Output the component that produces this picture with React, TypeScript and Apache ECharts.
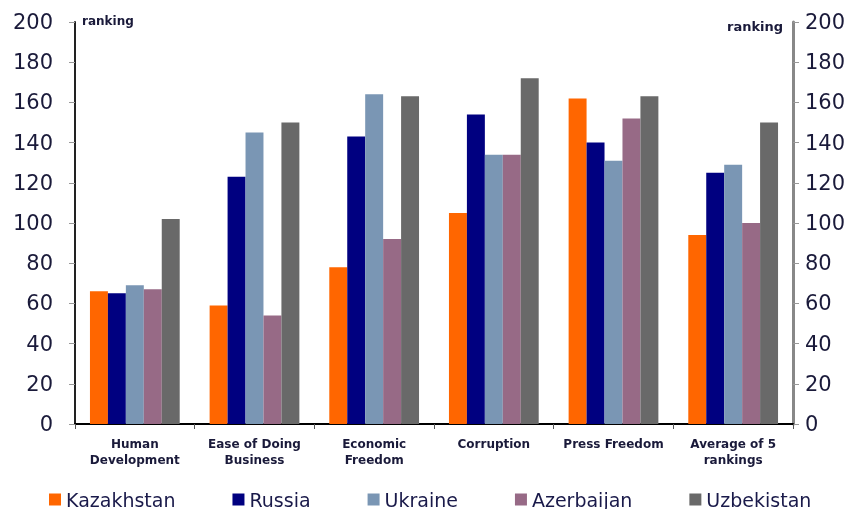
import React, { useEffect, useRef } from "react";
import * as echarts from "echarts";

const categories = [
  "Human\nDevelopment",
  "Ease of Doing\nBusiness",
  "Economic\nFreedom",
  "Corruption",
  "Press Freedom",
  "Average of 5\nrankings",
];
const seriesNames = ["Kazakhstan", "Russia", "Ukraine", "Azerbaijan", "Uzbekistan"];
const kazakhstan = [66, 59, 78, 105, 162, 94];
const russia = [65, 123, 143, 154, 140, 125];
const ukraine = [69, 145, 164, 134, 131, 129];
const azerbaijan = [67, 54, 92, 134, 152, 100];
const uzbekistan = [102, 150, 163, 172, 163, 150];
const colors = ["#FF6600", "#000080", "#7A96B4", "#976A86", "#696969"];

export default function App() {
  const ref = useRef<HTMLDivElement>(null);
  useEffect(() => {
    const chart = echarts.init(ref.current!, null, { renderer: "svg" });
    const values = [kazakhstan, russia, ukraine, azerbaijan, uzbekistan];
    const font = "DejaVu Sans, Verdana, sans-serif";
    const labelColor = "#1a1a3a";
    const yBase = {
      type: "value",
      min: 0,
      max: 200,
      interval: 20,
      splitLine: { show: false },
      axisTick: { show: true, length: 6, lineStyle: { color: "#999" } },
    };
    chart.setOption({
      animation: false,
      grid: { left: 75, right: 70, top: 22, bottom: 85 },
      xAxis: {
        type: "category",
        data: categories,
        axisLine: { lineStyle: { color: "#000", width: 2 } },
        axisTick: { show: true, length: 5, lineStyle: { color: "#555" } },
        axisLabel: {
          fontSize: 12,
          fontWeight: "bold",
          fontFamily: font,
          color: labelColor,
          lineHeight: 16,
          margin: 12,
          interval: 0,
        },
      },
      yAxis: [
        {
          ...yBase,
          position: "left",
          axisLine: { show: true, lineStyle: { color: "#222", width: 2 } },
          axisLabel: { fontSize: 21, fontFamily: font, color: labelColor, margin: 22 },
        },
        {
          ...yBase,
          position: "right",
          axisLine: { show: true, lineStyle: { color: "#888", width: 3 } },
          axisLabel: { fontSize: 21, fontFamily: font, color: labelColor, margin: 12 },
        },
      ],
      legend: {
        data: seriesNames,
        left: 44,
        top: 485,
        itemWidth: 12,
        itemHeight: 12,
        itemGap: 57,
        icon: "rect",
        textStyle: { fontSize: 19, fontFamily: font, color: "#1a1a4a" },
      },
      graphic: [
        {
          type: "text",
          left: 82,
          top: 15,
          style: { text: "ranking", fontSize: 12, fontWeight: "bold", fontFamily: font, fill: labelColor },
        },
        {
          type: "text",
          left: 727,
          top: 20,
          style: { text: "ranking", fontSize: 13, fontWeight: "bold", fontFamily: font, fill: labelColor },
        },
      ],
      series: seriesNames.map((name, i) => ({
        name,
        type: "bar",
        data: values[i],
        barGap: "0%",
        barCategoryGap: "25%",
        itemStyle: { color: colors[i] },
      })),
    });
    return () => chart.dispose();
  }, []);
  return (
    <div
      ref={ref}
      style={{ position: "fixed", left: 0, top: 0, width: 863, height: 509 }}
    />
  );
}
